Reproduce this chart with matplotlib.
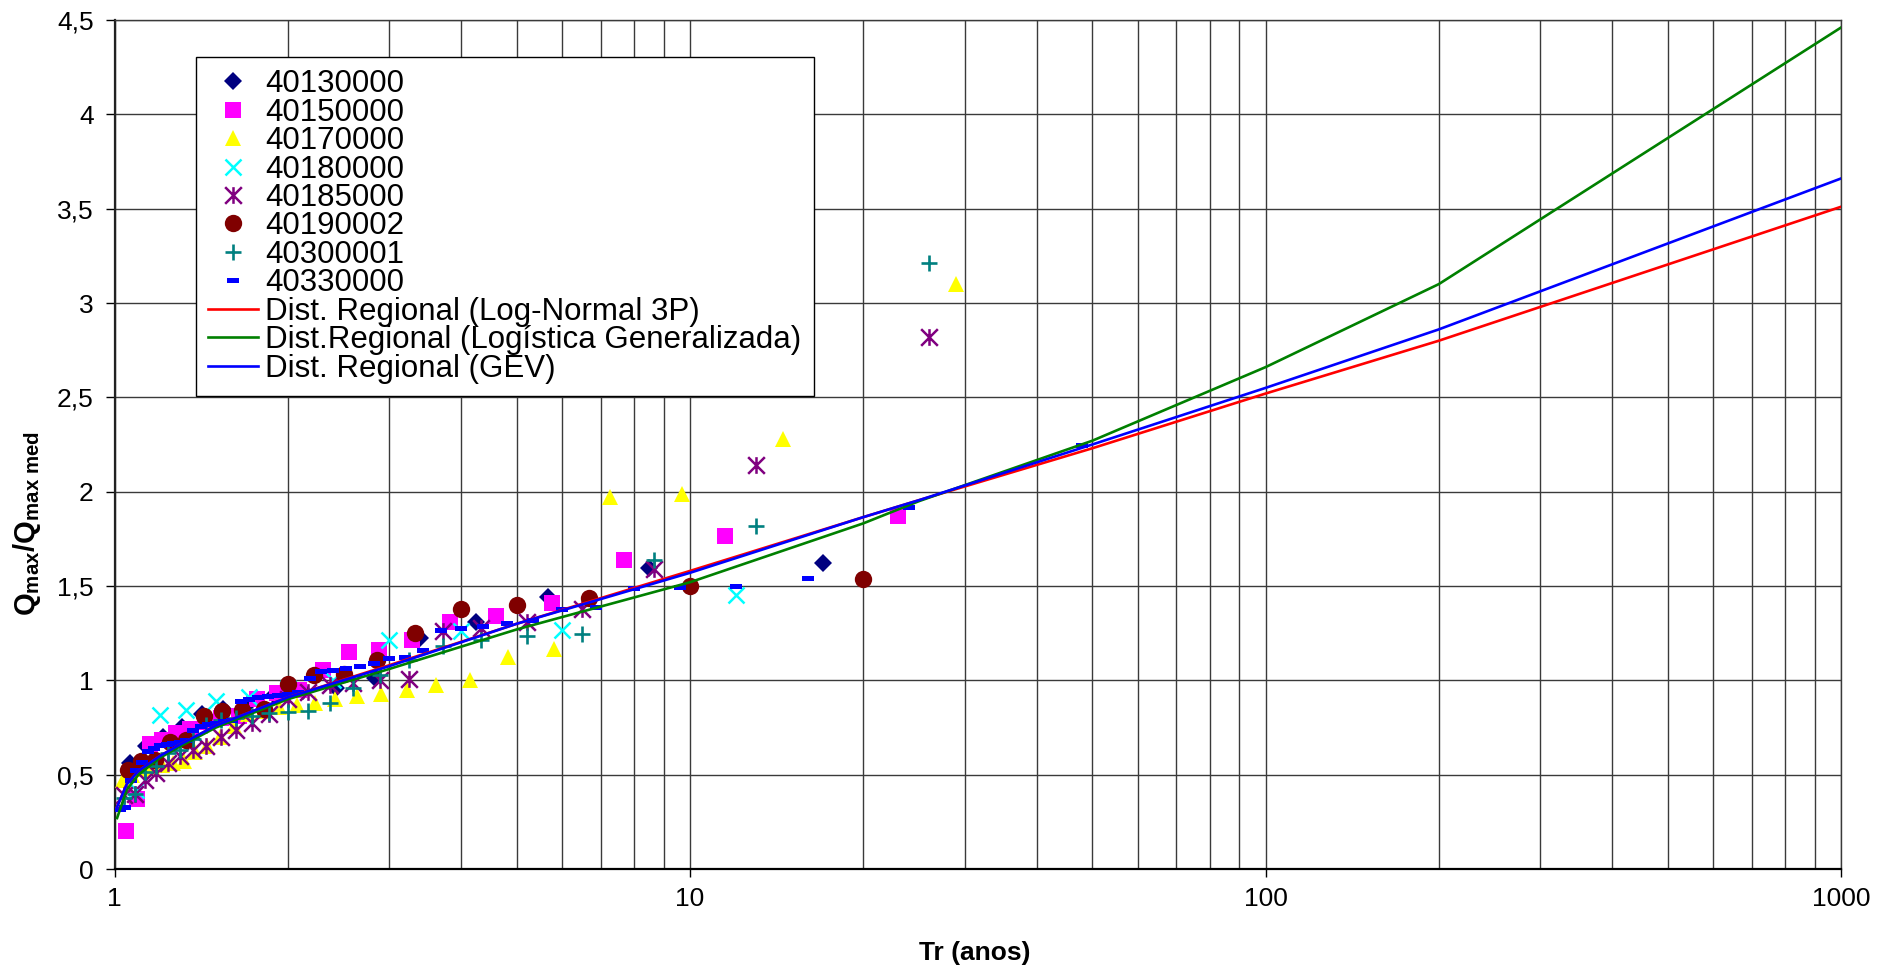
import matplotlib
matplotlib.use("Agg")
import matplotlib.pyplot as plt
from matplotlib.path import Path
from matplotlib.ticker import FixedLocator, FixedFormatter, NullFormatter, LogLocator

plt.rcParams['font.family'] = ['Liberation Sans', 'DejaVu Sans']
plt.rcParams['mathtext.fontset'] = 'custom'
plt.rcParams['mathtext.rm'] = 'Liberation Sans'
plt.rcParams['mathtext.it'] = 'Liberation Sans:italic'
plt.rcParams['mathtext.bf'] = 'Liberation Sans:bold'

# --- station data: return period (years) and Qmax / Qmax_med ---
tr_40130000 = [17.0, 8.5, 5.667, 4.25, 3.4, 2.833, 2.429, 2.125, 1.889, 1.7, 1.545,
               1.417, 1.308, 1.214, 1.133, 1.0625]
q_40130000 = [1.62, 1.595, 1.44, 1.31, 1.225, 1.01, 0.96, 0.945, 0.92, 0.87, 0.85,
              0.82, 0.755, 0.70, 0.65, 0.56]

tr_40150000 = [23.0, 11.5, 7.667, 5.75, 4.6, 3.833, 3.286, 2.875, 2.556, 2.3, 2.091,
               1.917, 1.769, 1.643, 1.533, 1.4375, 1.353, 1.278, 1.211, 1.15, 1.095, 1.045]
q_40150000 = [1.87, 1.765, 1.64, 1.41, 1.34, 1.31, 1.215, 1.16, 1.15, 1.055, 0.95,
              0.935, 0.90, 0.81, 0.80, 0.78, 0.74, 0.72, 0.685, 0.66, 0.37, 0.20]

tr_40170000 = [29.0, 14.5, 9.667, 7.25, 5.8, 4.833, 4.143, 3.625, 3.222, 2.9, 2.636,
               2.417, 2.231, 2.071, 1.933, 1.8125, 1.706, 1.611, 1.526, 1.45, 1.381,
               1.318, 1.261, 1.208, 1.16, 1.115, 1.074, 1.036]
q_40170000 = [3.10, 2.28, 1.99, 1.97, 1.165, 1.125, 1.0, 0.975, 0.95, 0.93, 0.915,
              0.90, 0.88, 0.87, 0.86, 0.84, 0.82, 0.76, 0.70, 0.65, 0.62,
              0.57, 0.56, 0.55, 0.54, 0.53, 0.50, 0.47]

tr_40180000 = [12.0, 6.0, 4.0, 3.0, 2.4, 2.0, 1.714, 1.5, 1.333, 1.2, 1.091]
q_40180000 = [1.45, 1.265, 1.26, 1.215, 1.0, 0.96, 0.91, 0.89, 0.845, 0.815, 0.42]

tr_40185000 = [26.0, 13.0, 8.667, 6.5, 5.2, 4.333, 3.714, 3.25, 2.889, 2.6, 2.364,
               2.167, 2.0, 1.857, 1.733, 1.625, 1.529, 1.444, 1.368, 1.3, 1.238,
               1.182, 1.13, 1.083, 1.04]
q_40185000 = [2.82, 2.14, 1.59, 1.38, 1.31, 1.275, 1.26, 1.005, 1.0, 0.985, 0.975,
              0.94, 0.90, 0.82, 0.775, 0.735, 0.70, 0.65, 0.63, 0.60, 0.56,
              0.51, 0.47, 0.40, 0.39]

tr_40190002 = [20.0, 10.0, 6.667, 5.0, 4.0, 3.333, 2.857, 2.5, 2.222, 2.0, 1.818,
               1.667, 1.538, 1.429, 1.333, 1.25, 1.176, 1.111, 1.053]
q_40190002 = [1.535, 1.50, 1.435, 1.40, 1.38, 1.25, 1.11, 1.035, 1.03, 0.98, 0.85,
              0.845, 0.84, 0.81, 0.685, 0.675, 0.58, 0.57, 0.525]

tr_40300001 = [26.0, 13.0, 8.667, 6.5, 5.2, 4.333, 3.714, 3.25, 2.889, 2.6, 2.364,
               2.167, 2.0, 1.857, 1.733, 1.625, 1.529, 1.444, 1.368, 1.3, 1.238,
               1.182, 1.13, 1.083, 1.04]
q_40300001 = [3.21, 1.82, 1.64, 1.245, 1.235, 1.215, 1.18, 1.11, 1.03, 0.96, 0.88,
              0.835, 0.83, 0.825, 0.81, 0.80, 0.79, 0.765, 0.69, 0.63, 0.615,
              0.545, 0.515, 0.40, 0.375]

tr_40330000 = [48.0, 24.0, 16.0, 12.0, 9.6, 8.0, 6.857, 6.0, 5.333, 4.8, 4.364, 4.0,
               3.692, 3.429, 3.2, 3.0, 2.824, 2.667, 2.526, 2.4, 2.286, 2.182, 2.087,
               2.0, 1.92, 1.846, 1.778, 1.714, 1.655, 1.6, 1.548, 1.5, 1.455, 1.412,
               1.371, 1.333, 1.297, 1.263, 1.231, 1.2, 1.171, 1.143, 1.116, 1.091,
               1.067, 1.043, 1.021]
q_40330000 = [2.245, 1.92, 1.54, 1.50, 1.495, 1.49, 1.39, 1.38, 1.32, 1.305, 1.29, 1.275,
              1.265, 1.16, 1.125, 1.12, 1.09, 1.075, 1.065, 1.055, 1.05, 1.01, 0.94,
              0.93, 0.92, 0.915, 0.91, 0.90, 0.89, 0.79, 0.785, 0.775, 0.77, 0.76,
              0.735, 0.685, 0.675, 0.67, 0.665, 0.655, 0.64, 0.625, 0.565, 0.525,
              0.47, 0.33, 0.32]

# --- regional growth curves ---
tr_curve = [1.01, 1.05, 1.1, 1.2, 1.3, 1.5, 2, 3, 5, 10, 20, 25, 50, 100, 200, 1000]
q_lognormal = [0.33, 0.45, 0.52, 0.60, 0.66, 0.76, 0.91, 1.08, 1.30, 1.58, 1.865, 1.955,
               2.23, 2.52, 2.80, 3.51]
q_glogistic = [0.27, 0.42, 0.50, 0.59, 0.65, 0.75, 0.90, 1.06, 1.27, 1.52, 1.832, 1.95,
               2.27, 2.66, 3.10, 4.46]
q_gev = [0.33, 0.45, 0.52, 0.60, 0.66, 0.76, 0.91, 1.075, 1.30, 1.57, 1.865, 1.955,
         2.25, 2.55, 2.86, 3.66]

y_ticks = [0, 0.5, 1, 1.5, 2, 2.5, 3, 3.5, 4, 4.5]
y_ticklabels = ['0', '0,5', '1', '1,5', '2', '2,5', '3', '3,5', '4', '4,5']
x_ticks = [1, 10, 100, 1000]
x_ticklabels = ['1', '10', '100', '1000']

# marker shapes
star_path = Path([(0, -1), (0, 1), (-1, -1), (1, 1), (-1, 1), (1, -1)],
                 [Path.MOVETO, Path.LINETO, Path.MOVETO, Path.LINETO, Path.MOVETO, Path.LINETO])
dash_path = Path([(-1, -0.45), (1, -0.45), (1, 0.45), (-1, 0.45), (-1, -0.45)],
                 [Path.MOVETO, Path.LINETO, Path.LINETO, Path.LINETO, Path.CLOSEPOLY])

W, H = 1892, 971
fig = plt.figure(figsize=(W / 100, H / 100), dpi=100)
ax_l, ax_r, ax_t, ax_b = 114.6, 1841.0, 20.0, 869.0
ax = fig.add_axes([ax_l / W, 1 - ax_b / H, (ax_r - ax_l) / W, (ax_b - ax_t) / H])

grid_c = '#3a3a3a'
ax.set_xscale('log')
ax.set_xlim(1, 1000)
ax.set_ylim(0, 4.5)

ax.xaxis.set_major_locator(FixedLocator(x_ticks))
ax.xaxis.set_major_formatter(FixedFormatter(x_ticklabels))
ax.xaxis.set_minor_locator(LogLocator(base=10, subs=(2, 3, 4, 5, 6, 7, 8, 9)))
ax.xaxis.set_minor_formatter(NullFormatter())
ax.yaxis.set_major_locator(FixedLocator(y_ticks))
ax.yaxis.set_major_formatter(FixedFormatter(y_ticklabels))

ax.grid(True, which='both', axis='x', color=grid_c, lw=1.0, zorder=0)
ax.grid(True, which='major', axis='y', color=grid_c, lw=1.0, zorder=0)
ax.set_axisbelow(True)

ax.tick_params(axis='x', which='major', direction='out', length=6, width=1,
               pad=7, labelsize=19, colors='black')
ax.tick_params(axis='x', which='minor', length=0)
ax.tick_params(axis='y', which='major', direction='out', length=6.5, width=1,
               pad=8.5, labelsize=19, colors='black')
for side in ('top', 'right'):
    ax.spines[side].set_color(grid_c)
    ax.spines[side].set_linewidth(1.0)
ax.spines['left'].set_color('#222222')
ax.spines['left'].set_linewidth(1.6)
ax.spines['bottom'].set_color('black')
ax.spines['bottom'].set_linewidth(1.6)

stations = [
    ('40130000', tr_40130000, q_40130000, dict(marker='D', color='#000080', ms=9, mew=0)),
    ('40150000', tr_40150000, q_40150000, dict(marker='s', color='#FF00FF', ms=12, mew=0)),
    ('40170000', tr_40170000, q_40170000, dict(marker='^', color='#FFFF00', ms=12, mew=0)),
    ('40180000', tr_40180000, q_40180000, dict(marker='x', color='#00FFFF', ms=12, mew=1.8)),
    ('40185000', tr_40185000, q_40185000, dict(marker=star_path, color='#800080', ms=12, mew=1.8)),
    ('40190002', tr_40190002, q_40190002, dict(marker='o', color='#800000', ms=12.5, mew=0)),
    ('40300001', tr_40300001, q_40300001, dict(marker='+', color='#008080', ms=12, mew=1.9)),
    ('40330000', tr_40330000, q_40330000, dict(marker=dash_path, color='#0000FF', ms=8, mew=0)),
]

handles = []
for name, t, q, st in stations:
    h, = ax.plot(t, q, linestyle='none', label=name, zorder=3, **st)
    handles.append(h)

curves = [
    ('Dist. Regional (Log-Normal 3P)', q_lognormal, '#FF0000'),
    ('Dist.Regional (Logística Generalizada)', q_glogistic, '#008000'),
    ('Dist. Regional (GEV)', q_gev, '#0000FF'),
]
for name, q, c in curves:
    h, = ax.plot(tr_curve, q, color=c, lw=1.9, label=name, zorder=4)
    handles.append(h)

axw = ax_r - ax_l
axh = ax_b - ax_t
leg = ax.legend(handles=handles, loc='upper left',
                bbox_to_anchor=((195.7 - ax_l) / axw, 1 - (56.7 - ax_t) / axh),
                borderaxespad=0, prop={'family': 'Liberation Sans', 'size': 22.5},
                labelspacing=-0.05, handlelength=1.6, handletextpad=0.22,
                borderpad=0.4, frameon=True, fancybox=False, shadow=False,
                edgecolor='black', framealpha=1, numpoints=1)
leg.get_frame().set_linewidth(1.0)
leg.set_zorder(10)

fig.text(975 / W, 1 - 953 / H, 'Tr (anos)', ha='center', va='center',
         fontsize=19, fontweight='bold')
fig.text(27 / W, 1 - 524 / H, r'$\mathbf{Q_{max}/Q_{max\ med}}$', ha='center',
         va='center', rotation=90, fontsize=21)

fig.savefig('out.png', dpi=100)
